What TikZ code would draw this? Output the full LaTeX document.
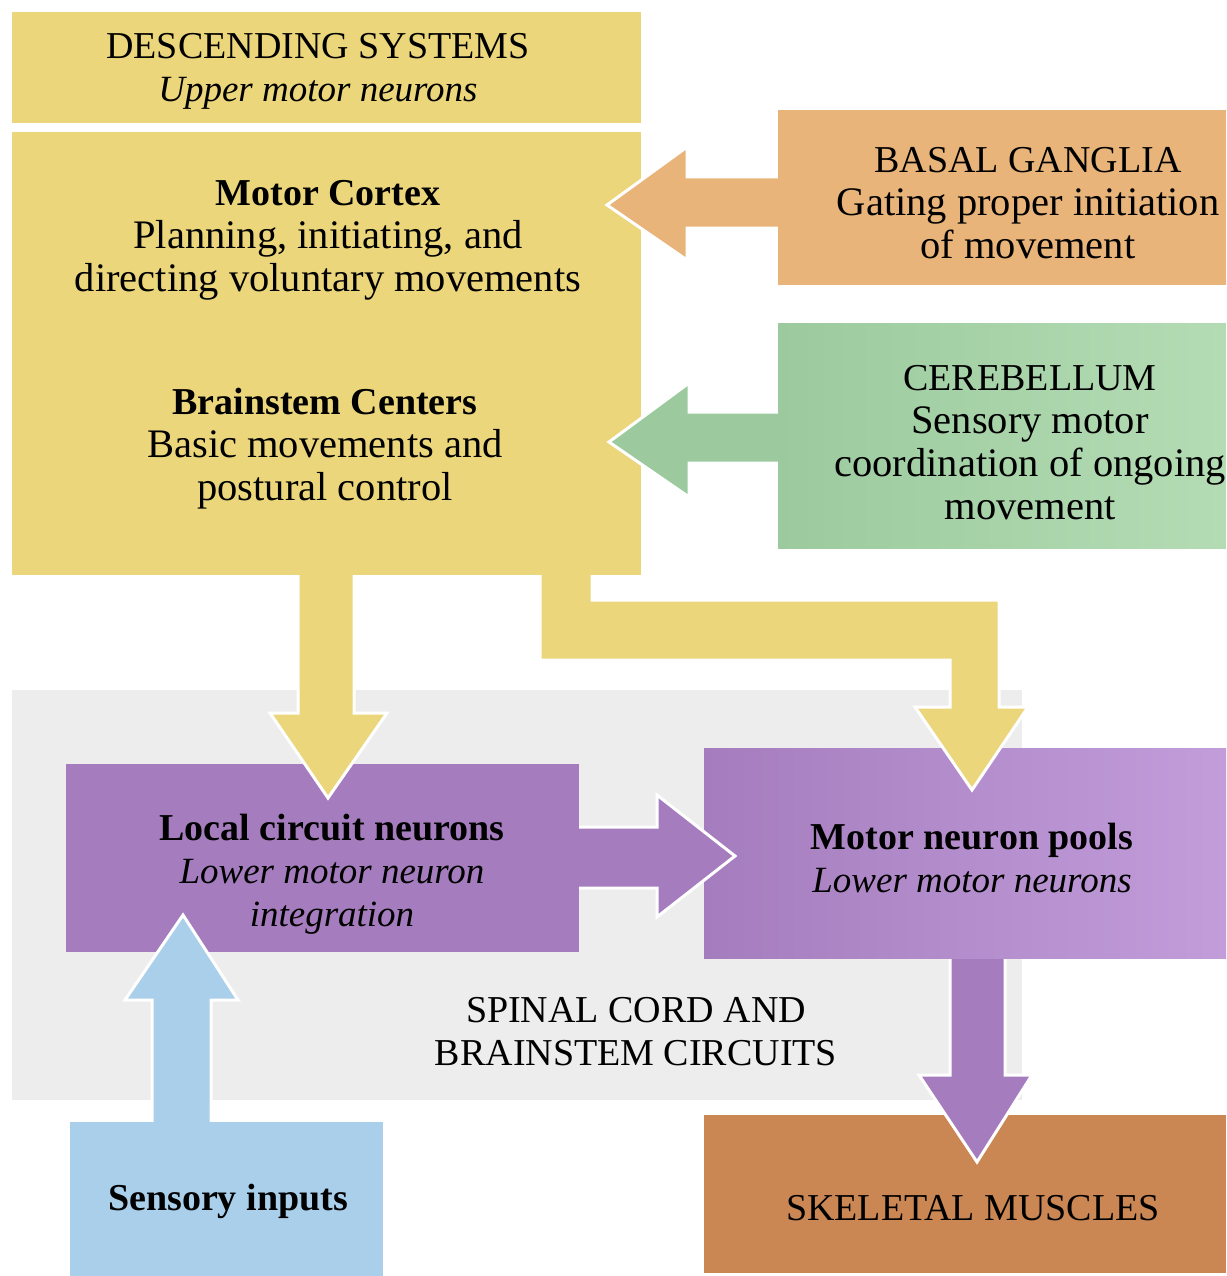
\documentclass[tikz,border=0pt]{standalone}
\usepackage{fontspec}
\setmainfont{Liberation Serif}
\usetikzlibrary{fit,calc}
\definecolor{cyel}{HTML}{EBD67B}
\definecolor{corange}{HTML}{E9B47A}
\definecolor{cgreen}{HTML}{9CCA9E}
\definecolor{cgreenR}{HTML}{B4DCB4}
\definecolor{cpurple}{HTML}{A57DBE}
\definecolor{cpurpleR}{HTML}{C29DDA}
\definecolor{cblue}{HTML}{A9CFEB}
\definecolor{cbrown}{HTML}{CB8753}
\definecolor{cgrey}{HTML}{EDEDED}
\newcommand\bodyf{\fontsize{40.5}{43}\selectfont}
\newcommand\itf{\fontsize{37}{43}\selectfont\itshape}
\begin{document}
\begin{tikzpicture}[x=1pt,y=-1pt,
  blk/.style={inner sep=0pt, outer sep=0pt, draw=none},
  txt/.style={align=center, inner sep=0pt, text=black, font=\fontsize{38}{43}\selectfont},
  arr/.style={draw=white, line width=3pt, line join=miter}]
\useasboundingbox[fill=white] (0,0) rectangle (1226,1276);

% background band of the spinal level
\node[blk, fill=cgrey, fit={(12,690) (1022,1100)}] (band) {};

% lower boxes and arrows (target first, then arrow, then source)
\node[blk, fill=cbrown, fit={(704,1115) (1226,1273)}] (muscle) {};
\path[arr, fill=cpurple] ($(950,0|-0,958)+(0,-8)$) -- (950,1075) -- (919,1075) -- (977,1162) -- (1032,1075) -- (1005,1075) -- ($(1005,0|-0,958)+(0,-8)$) -- cycle;
\node[blk, left color=cpurple, right color=cpurpleR, fit={(704,748) (1226,958)}] (pool) {};
\path[arr, fill=cpurple] ($(579,0|-0,827)+(-8,0)$) -- (657,827) -- (657,795) -- (735,856) -- (657,917) -- (657,888) -- ($(579,0|-0,888)+(-8,0)$) -- cycle;
\node[blk, fill=cpurple, fit={(66,764) (579,952)}] (local) {};
\node[blk, fill=cblue, fit={(70,1122) (383,1276)}] (sensory) {};
\path[arr, fill=cblue] ($(152,0|-sensory.north)+(0,8)$) -- (152,1000) -- (125,1000) -- (183,915) -- (238,1000) -- (211,1000) -- ($(211,0|-sensory.north)+(0,8)$) -- cycle;
\fill[cblue] (sensory.north west) rectangle (sensory.south east);

% descending yellow arrows
\path[arr, fill=cyel] ($(298,0|-0,575)+(0,-8)$) -- (298,713) -- (270,713) -- (328,798) -- (387,713) -- (354,713) -- ($(354,0|-0,575)+(0,-8)$) -- cycle;
\path[arr, fill=cyel] ($(540,0|-0,575)+(0,-8)$) -- (540,660) -- (950,660) -- (950,707) -- (915,707) -- (972,790) -- (1028,707) -- (999,707) -- (999,600) -- (592,600) -- ($(592,0|-0,575)+(0,-8)$) -- cycle;

% upper yellow boxes
\node[blk, fill=cyel, fit={(12,12) (641,123)}] (desc) {};
\node[blk, fill=cyel, fit={(12,132) (641,575)}] (cortex) {};

% basal ganglia and cerebellum arrows and boxes
\path[arr, fill=corange] ($(778,0|-0,177)+(8,0)$) -- (687,177) -- (687,147) -- (607,205) -- (687,260) -- (687,228) -- ($(778,0|-0,228)+(8,0)$) -- cycle;
\node[blk, fill=corange, fit={(778,110) (1226,285)}] (basal) {};
\path[arr, fill=cgreen] ($(778,0|-0,412)+(8,0)$) -- (689,412) -- (689,383) -- (609,442) -- (689,497) -- (689,463) -- ($(778,0|-0,463)+(8,0)$) -- cycle;
\node[blk, left color=cgreen, right color=cgreenR, fit={(778,323) (1226,548)}] (cereb) {};

% texts
\node[txt] (tdesc) at (318,71) {DESCENDING SYSTEMS\\{\itf Upper motor neurons}};
\node[txt] (tcortex) at (328,240) {\textbf{Motor Cortex}\\{\bodyf Planning, initiating, and}\\{\bodyf directing voluntary movements}};
\node[txt] (tbrain) at (325,449) {\textbf{Brainstem Centers}\\{\bodyf Basic movements and}\\{\bodyf postural control}};
\node[txt] (tbasal) at (1028,203) {BASAL GANGLIA\\{\bodyf Gating proper initiation}\\{\bodyf of movement}};
\node[txt] (tcereb) at (1030,443) {CEREBELLUM\\{\bodyf Sensory motor}\\{\bodyf coordination of ongoing}\\{\bodyf movement}};
\node[txt] (tlocal) at (332,874) {\textbf{Local circuit neurons}\\{\itf Lower motor neuron}\\{\itf integration}};
\node[txt] (tpool) at (972,858) {\textbf{Motor neuron pools}\\{\itf Lower motor neurons}};
\node[txt] (tspinal) at (636,1032) {SPINAL CORD AND\\BRAINSTEM CIRCUITS};
\node[txt] (tsens) at (228,1201) {\textbf{Sensory inputs}};
\node[txt] (tmusc) at (973,1208) {SKELETAL MUSCLES};
\end{tikzpicture}
\end{document}
